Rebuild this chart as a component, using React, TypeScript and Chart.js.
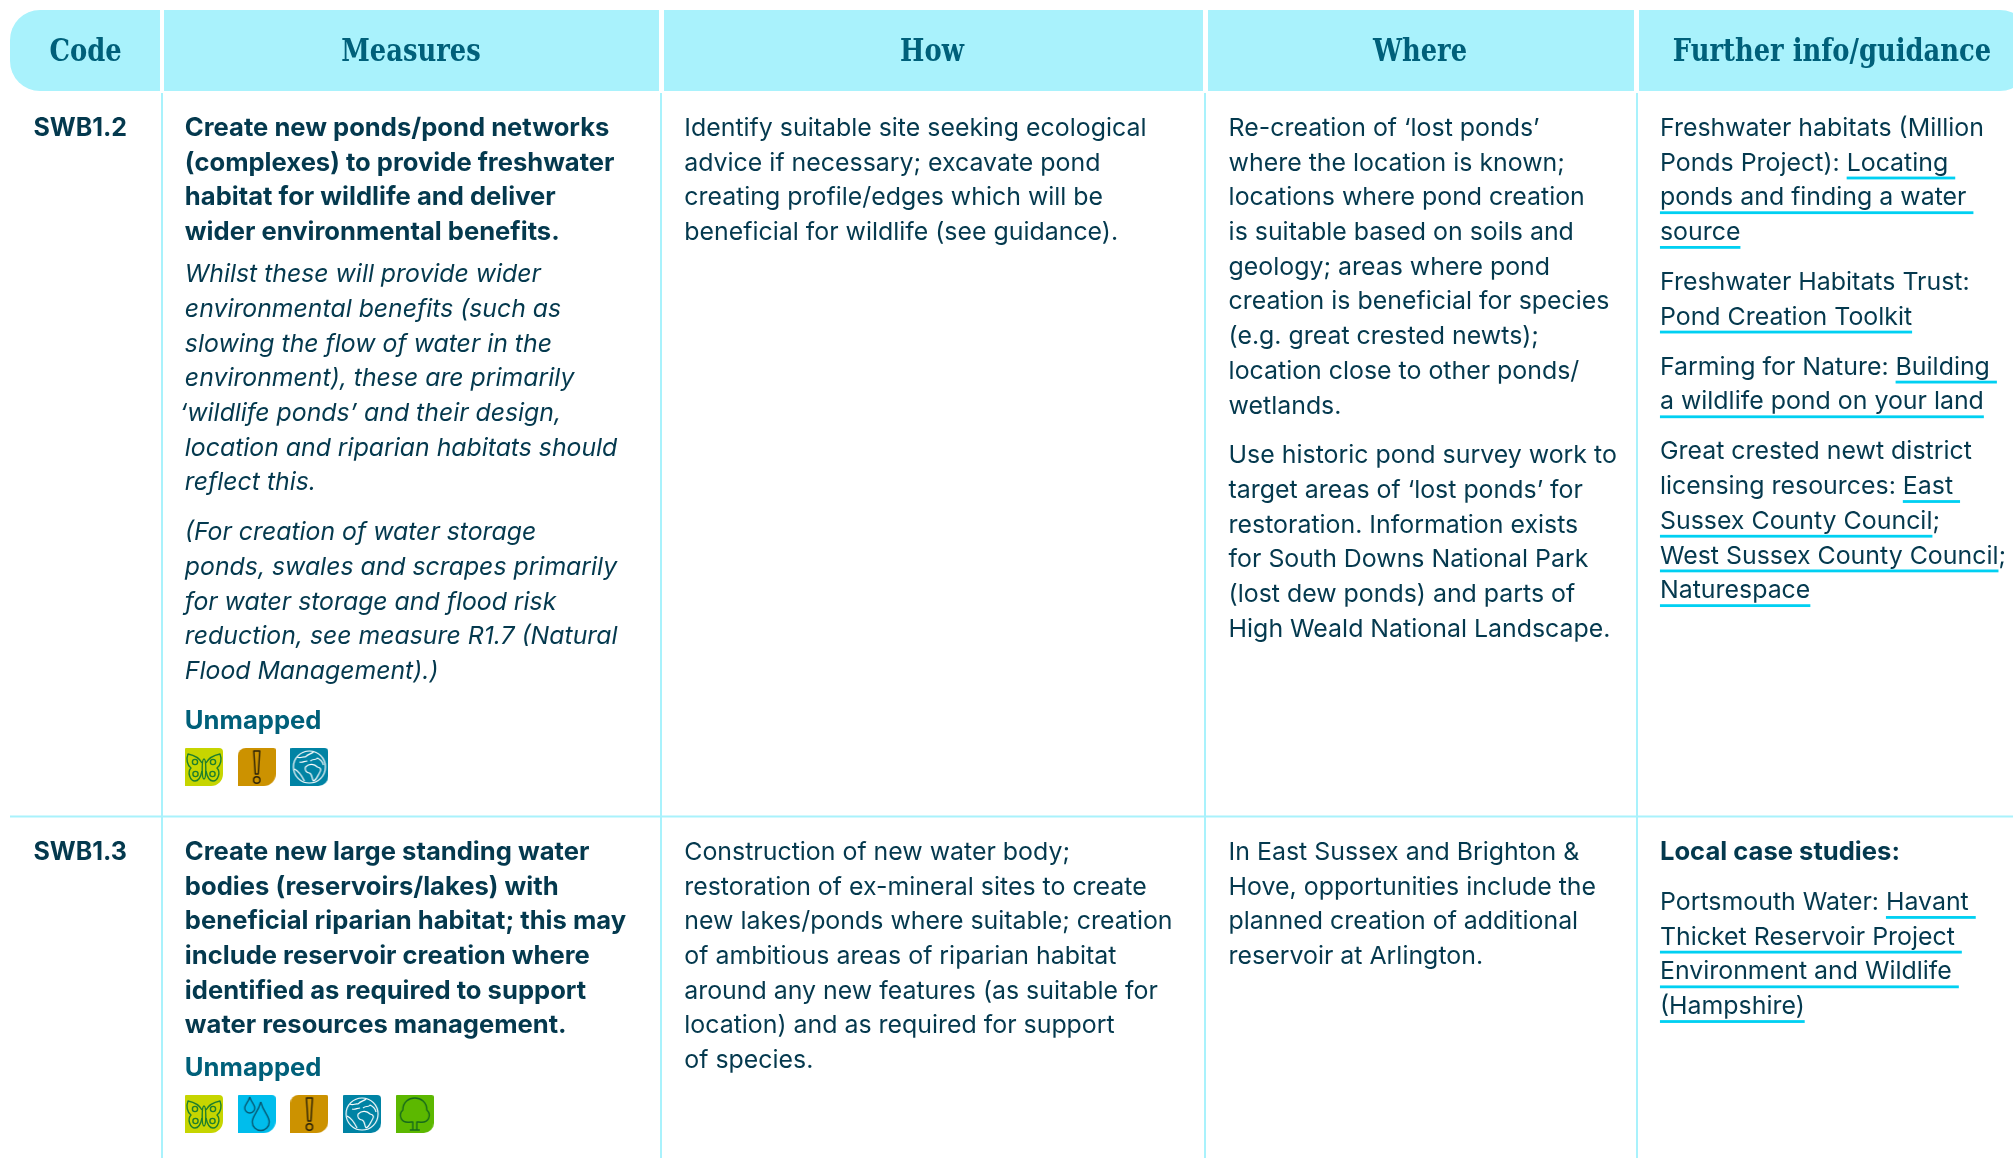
import React, { useEffect, useRef } from "react";
import { Chart, registerables } from "chart.js";

Chart.register(...registerables);

// ---------- content ----------
const headers = ["Code", "Measures", "How", "Where", "Further info/guidance"];
const codes = ["SWB1.2", "SWB1.3"];
const unmappedLabel = "Unmapped";

const measure1Bold = [
  "Create new ponds/pond networks",
  "(complexes) to provide freshwater",
  "habitat for wildlife and deliver",
  "wider environmental benefits.",
];
const measure1Note = [
  "Whilst these will provide wider",
  "environmental benefits (such as",
  "slowing the flow of water in the",
  "environment), these are primarily",
  "‘wildlife ponds’ and their design,",
  "location and riparian habitats should",
  "reflect this.",
];
const measure1Aside = [
  "(For creation of water storage",
  "ponds, swales and scrapes primarily",
  "for water storage and flood risk",
  "reduction, see measure R1.7 (Natural",
  "Flood Management).)",
];
const measure2Bold = [
  "Create new large standing water",
  "bodies (reservoirs/lakes) with",
  "beneficial riparian habitat; this may",
  "include reservoir creation where",
  "identified as required to support",
  "water resources management.",
];
const how1 = [
  "Identify suitable site seeking ecological",
  "advice if necessary; excavate pond",
  "creating profile/edges which will be",
  "beneficial for wildlife (see guidance).",
];
const how2 = [
  "Construction of new water body;",
  "restoration of ex-mineral sites to create",
  "new lakes/ponds where suitable; creation",
  "of ambitious areas of riparian habitat",
  "around any new features (as suitable for",
  "location) and as required for support",
  "of species.",
];
const where1a = [
  "Re-creation of ‘lost ponds’",
  "where the location is known;",
  "locations where pond creation",
  "is suitable based on soils and",
  "geology; areas where pond",
  "creation is beneficial for species",
  "(e.g. great crested newts);",
  "location close to other ponds/",
  "wetlands.",
];
const where1b = [
  "Use historic pond survey work to",
  "target areas of ‘lost ponds’ for",
  "restoration. Information exists",
  "for South Downs National Park",
  "(lost dew ponds) and parts of",
  "High Weald National Landscape.",
];
const where2 = [
  "In East Sussex and Brighton &",
  "Hove, opportunities include the",
  "planned creation of additional",
  "reservoir at Arlington.",
];
// [[...]] marks a linked, underlined run.
const info1a = [
  "Freshwater habitats (Million",
  "Ponds Project): [[Locating ]]",
  "[[ponds and finding a water ]]",
  "[[source]]",
];
const info1b = ["Freshwater Habitats Trust:", "[[Pond Creation Toolkit]]"];
const info1c = ["Farming for Nature: [[Building ]]", "[[a wildlife pond on your land]]"];
const info1d = [
  "Great crested newt district",
  "licensing resources: [[East ]]",
  "[[Sussex County Council]];",
  "[[West Sussex County Council]];",
  "[[Naturespace]]",
];
const info2Title = ["Local case studies:"];
const info2 = [
  "Portsmouth Water: [[Havant ]]",
  "[[Thicket Reservoir Project ]]",
  "[[Environment and Wildlife ]]",
  "[[(Hampshire)]]",
];
const iconRow1 = ["butterfly", "warning", "globe"];
const iconRow2 = ["butterfly", "water", "warning", "globe", "tree"];

// ---------- layout and style ----------
const W = 2013;
const H = 1158;
const K = 2013 / 1568;
const BODY = "Inter";
const HEAD = "'DejaVu Serif Condensed'";
const INK = "#04394e";
const TEAL = "#00607a";
const CYAN = "#a9f2fc";
const LINK = "#00d0f2";
const fontBody = `400 24.9px ${BODY}`;
const fontBold = `700 25.6px ${BODY}`;
const fontCode = `700 25px ${BODY}`;
const fontNote = `italic 400 24.8px ${BODY}`;
const fontUnmapped = `700 25.6px ${BODY}`;
const fontHead = `700 31px ${HEAD}`;
const headSqueeze = 0.925;
const colX = [10, 164, 664, 1208, 1639];
const colEnd = [160, 659, 1203, 1634, 2030];
const gridX = [162, 661, 1205, 1637];
const ruleY = 816.5;
const headTop = 10;
const headBottom = 91;
const step = 27.03;

type Block = { lines: string[]; x: number; y: number; font: string; color?: string };
const blocks: Block[] = [
  { lines: [codes[0]], x: 26, y: 99, font: fontCode },
  { lines: [codes[1]], x: 26, y: 663, font: fontCode },
  { lines: measure1Bold, x: 144, y: 99, font: fontBold },
  { lines: measure1Note, x: 144, y: 213, font: fontNote },
  { lines: measure1Aside, x: 144, y: 414, font: fontNote },
  { lines: [unmappedLabel], x: 144, y: 561, font: fontUnmapped, color: TEAL },
  { lines: measure2Bold, x: 144, y: 663, font: fontBold },
  { lines: [unmappedLabel], x: 144, y: 831, font: fontUnmapped, color: TEAL },
  { lines: how1, x: 533, y: 99, font: fontBody },
  { lines: how2, x: 533, y: 663, font: fontBody },
  { lines: where1a, x: 957, y: 99, font: fontBody },
  { lines: where1b, x: 957, y: 354, font: fontBody },
  { lines: where2, x: 957, y: 663, font: fontBody },
  { lines: info1a, x: 1293, y: 99, font: fontBody },
  { lines: info1b, x: 1293, y: 219, font: fontBody },
  { lines: info1c, x: 1293, y: 285, font: fontBody },
  { lines: info1d, x: 1293, y: 351, font: fontBody },
  { lines: info2Title, x: 1293, y: 663, font: fontBold },
  { lines: info2, x: 1293, y: 702, font: fontBody },
];

const iconCorners: Record<string, number[]> = {
  butterfly: [1, 4, 12, 0],
  water: [1, 4, 12, 0],
  warning: [8, 2, 12, 0],
  globe: [1, 4, 10, 0],
  tree: [1, 2, 10, 0],
};

function iconShape(c: CanvasRenderingContext2D, s: number, fill: string, kind: string) {
  c.beginPath();
  c.roundRect(0, 0, s, s, iconCorners[kind]);
  c.fillStyle = fill;
  c.fill();
}

function makeIcon(kind: string): HTMLCanvasElement {
  const s = 38;
  const cv = document.createElement("canvas");
  cv.width = s;
  cv.height = s;
  const c = cv.getContext("2d")!;
  c.lineWidth = 1.4;
  c.lineJoin = "round";
  if (kind === "butterfly") {
    iconShape(c, s, "#c6d500", kind);
    c.strokeStyle = "#1f7f2c";
    for (const m of [1, -1]) {
      c.save();
      c.translate(19, 0);
      c.scale(m, 1);
      c.beginPath();
      c.moveTo(2, 15);
      c.bezierCurveTo(5, 9, 11, 7, 16, 6);
      c.bezierCurveTo(18, 11, 17, 17, 13, 20);
      c.bezierCurveTo(17, 24, 14, 33, 9, 33);
      c.bezierCurveTo(5, 33, 3, 28, 2, 23);
      c.stroke();
      c.beginPath();
      c.arc(9, 14, 2.6, 0, 7);
      c.moveTo(11, 26);
      c.arc(8.5, 26, 2.6, 0, 7);
      c.stroke();
      c.restore();
    }
    c.beginPath();
    c.ellipse(19, 21, 1.8, 10, 0, 0, 7);
    c.stroke();
  } else if (kind === "water") {
    iconShape(c, s, "#00bdec", kind);
    c.strokeStyle = "#065a74";
    const drop = (x: number, y: number, r: number, h: number) => {
      c.beginPath();
      c.moveTo(x, y - h);
      c.bezierCurveTo(x + r * 0.3, y - h * 0.5, x + r, y - r * 0.7, x + r, y);
      c.arc(x, y, r, 0, Math.PI);
      c.bezierCurveTo(x - r, y - r * 0.7, x - r * 0.3, y - h * 0.5, x, y - h);
      c.stroke();
    };
    drop(12, 13, 5, 11);
    drop(23, 27, 8.5, 20);
  } else if (kind === "warning") {
    iconShape(c, s, "#cc9200", kind);
    c.strokeStyle = "#2a2208";
    c.beginPath();
    c.moveTo(16, 3);
    c.lineTo(22, 3);
    c.lineTo(20.5, 26);
    c.lineTo(17.5, 26);
    c.closePath();
    c.stroke();
    c.beginPath();
    c.arc(19, 32, 3.2, 0, 7);
    c.stroke();
  } else if (kind === "globe") {
    iconShape(c, s, "#0083a4", kind);
    c.strokeStyle = "#ffffff";
    c.lineWidth = 1.2;
    c.beginPath();
    c.arc(19, 19, 16, 0, 7);
    c.stroke();
    c.beginPath();
    // North-west coast
    c.moveTo(7, 9);
    c.bezierCurveTo(10, 11, 12, 8, 15, 9);
    c.bezierCurveTo(17, 6, 21, 6, 23, 4);
    c.moveTo(9, 14);
    c.bezierCurveTo(12, 15, 14, 13, 17, 13);
    // Europe
    c.moveTo(20, 13);
    c.bezierCurveTo(23, 10, 25, 13, 27, 10);
    c.bezierCurveTo(29, 11, 32, 13, 33, 17);
    // Africa
    c.moveTo(15, 19);
    c.bezierCurveTo(19, 15, 24, 16, 27, 19);
    c.bezierCurveTo(31, 20, 31, 22, 29, 25);
    c.bezierCurveTo(27, 28, 26, 32, 23, 33);
    c.bezierCurveTo(21, 30, 22, 26, 19, 25);
    c.bezierCurveTo(16, 25, 14, 22, 15, 19);
    // South-west arc
    c.moveTo(4, 21);
    c.bezierCurveTo(8, 23, 11, 27, 14, 33);
    c.stroke();
  } else {
    iconShape(c, s, "#5cb800", kind);
    c.strokeStyle = "#176a1b";
    c.beginPath();
    c.moveTo(15, 27);
    c.bezierCurveTo(5, 29, 2, 20, 7, 15);
    c.bezierCurveTo(7, 7, 13, 3, 19, 3);
    c.bezierCurveTo(25, 3, 31, 7, 31, 15);
    c.bezierCurveTo(36, 20, 33, 29, 23, 27);
    c.moveTo(15, 27);
    c.lineTo(17, 27);
    c.lineTo(17, 35);
    c.lineTo(21, 35);
    c.lineTo(21, 27);
    c.lineTo(23, 27);
    c.moveTo(14, 35);
    c.lineTo(24, 35);
    c.stroke();
  }
  return cv;
}

const tablePlugin = {
  id: "tablePlugin",
  beforeDatasetsDraw(chart: any) {
    const { ctx, scales } = chart;
    const px = (v: number) => scales.x.getPixelForValue(v);
    const py = (v: number) => scales.y.getPixelForValue(v);
    ctx.save();
    ctx.fillStyle = CYAN;
    colX.forEach((x0, i) => {
      const x = px(x0);
      const w = px(colEnd[i]) - x;
      const y = py(headTop);
      const h = py(headBottom) - y;
      ctx.beginPath();
      const rad = i === 0 ? [30, 0, 0, 30] : i === 4 ? [0, 30, 30, 0] : 0;
      ctx.roundRect(x, y, w, h, rad);
      ctx.fill();
    });
    ctx.textBaseline = "alphabetic";
    ctx.font = fontHead;
    ctx.fillStyle = TEAL;
    ctx.textAlign = "center";
    const headCx = [85.5, 411, 932, 1420, 1832];
    headers.forEach((t, i) => {
      ctx.save();
      ctx.translate(px(headCx[i]), py(61));
      ctx.scale(headSqueeze, 1);
      ctx.fillText(t, 0, 0);
      ctx.restore();
    });
    ctx.textAlign = "left";
    blocks.forEach((b) => {
      ctx.font = b.font;
      b.lines.forEach((line, n) => {
        const base = (b.y + n * step) * K + 8.8;
        let x = b.x * K;
        // Hanging opening quote in the note text.
        if (line.startsWith("‘wildlife")) x -= 5;
        const parts = line.split(/(\[\[.*?\]\])/).filter(Boolean);
        parts.forEach((p) => {
          const isLink = p.startsWith("[[");
          const t = isLink ? p.slice(2, -2) : p;
          const w = ctx.measureText(t).width;
          if (isLink) {
            ctx.fillStyle = LINK;
            ctx.fillRect(px(x), py(base + 6), w, 2.8);
          }
          ctx.fillStyle = b.color ?? INK;
          ctx.fillText(t, px(x), py(base));
          x += w;
        });
      });
    });
    ctx.restore();
  },
};

export default function App() {
  const ref = useRef<HTMLCanvasElement | null>(null);
  useEffect(() => {
    document.body.style.margin = "0";
    document.body.style.background = "#ffffff";
    const grid = [
      ...gridX.map((x) => ({
        data: [
          { x, y: headBottom + 2 },
          { x, y: H },
        ],
      })),
      {
        data: [
          { x: 10, y: ruleY },
          { x: W, y: ruleY },
        ],
      },
    ].map((d) => ({
      ...d,
      showLine: true,
      borderColor: CYAN,
      borderWidth: 2,
      pointRadius: 0,
    }));
    const iconPoints = [
      ...iconRow1.map((kind, i) => ({ x: 204 + i * 52.7, y: 767, kind })),
      ...iconRow2.map((kind, i) => ({ x: 204 + i * 52.7, y: 1114, kind })),
    ];
    const icons = {
      data: iconPoints.map(({ x, y }) => ({ x, y })),
      showLine: false,
      pointRadius: 19,
      pointStyle: iconPoints.map((p) => makeIcon(p.kind)),
    };
    const chart = new Chart(ref.current!, {
      type: "scatter",
      data: { datasets: [...grid, icons] as any },
      options: {
        animation: false,
        responsive: false,
        devicePixelRatio: 1,
        layout: { padding: 0, autoPadding: false },
        plugins: {
          legend: { display: false },
          tooltip: { enabled: false },
          title: { display: false },
        },
        scales: {
          x: { type: "linear", min: 0, max: W, display: false },
          y: { type: "linear", min: 0, max: H, reverse: true, display: false },
        },
      },
      plugins: [tablePlugin],
    });
    return () => chart.destroy();
  }, []);
  return <canvas ref={ref} width={W} height={H} style={{ display: "block" }} />;
}
